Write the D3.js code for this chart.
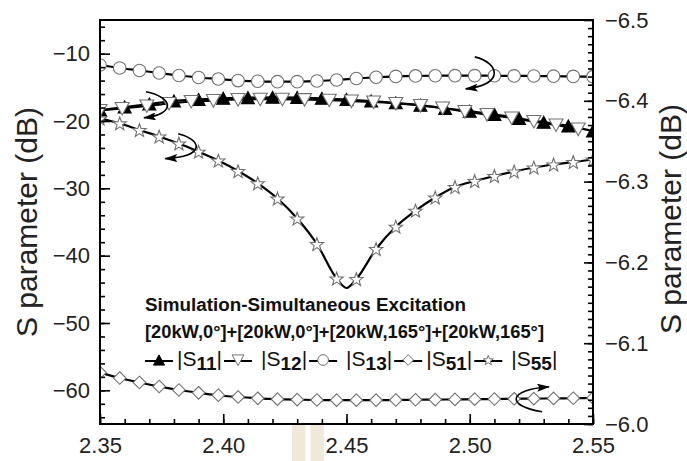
<!DOCTYPE html>
<html>
<head>
<meta charset="utf-8">
<script src="https://cdn.jsdelivr.net/npm/d3@7"></script>
<style>
  body { margin: 0; background: #fff; }
  svg { display: block; font-family: "Liberation Sans", Arial, sans-serif; }
</style>
</head>
<body>
<svg id="chart" width="687" height="461"></svg>
<script>
// Frequency grids (GHz)
const freq = [2.350, 2.358, 2.366, 2.374, 2.382, 2.390, 2.398, 2.406, 2.414, 2.422, 2.430, 2.438, 2.446,
              2.454, 2.462, 2.470, 2.478, 2.486, 2.494, 2.502, 2.510, 2.518, 2.526, 2.534, 2.542, 2.550];
const freqS11 = [2.35, 2.36, 2.37, 2.38, 2.39, 2.40, 2.41, 2.42, 2.43, 2.44, 2.45,
                 2.46, 2.47, 2.48, 2.49, 2.50, 2.51, 2.52, 2.53, 2.54, 2.55];
const freqS12 = [2.350, 2.359, 2.369, 2.378, 2.387, 2.396, 2.406, 2.415, 2.424, 2.433, 2.443,
                 2.452, 2.461, 2.470, 2.480, 2.489, 2.498, 2.507, 2.517, 2.526, 2.535, 2.544];

// |S| magnitudes in dB (S51 is read on the right-hand axis)
const s11 = [-18.37, -17.92, -17.48, -17.03, -16.81, -16.61, -16.53, -16.48, -16.51, -16.63, -16.81,
             -17.03, -17.30, -17.65, -18.14, -18.54, -19.01, -19.63, -20.18, -20.74, -21.49];
const s12 = [-18.44, -18.14, -17.77, -17.40, -17.10, -16.96, -16.81, -16.76, -16.76, -16.82, -16.91,
             -17.03, -17.18, -17.40, -17.70, -18.07, -18.59, -19.04, -19.55, -20.07, -20.59, -21.19];
const s13 = [-11.68, -12.13, -12.50, -12.87, -13.24, -13.54, -13.76, -13.99, -14.10, -14.16, -14.16, -14.06, -13.91,
             -13.69, -13.50, -13.38, -13.31, -13.28, -13.27, -13.27, -13.28, -13.30, -13.32, -13.35, -13.38, -13.42];
const s51 = [-6.0637, -6.0569, -6.0514, -6.0464, -6.0421, -6.0386, -6.0356, -6.0334, -6.0318, -6.0307, -6.0301, -6.0297, -6.0295,
             -6.0295, -6.0296, -6.0297, -6.0300, -6.0302, -6.0304, -6.0307, -6.0309, -6.0312, -6.0314, -6.0317, -6.0319, -6.0322];
const s55 = [-19.63, -20.34, -21.34, -22.30, -23.34, -24.56, -25.87, -27.43, -29.25, -31.51, -34.48, -38.27, -43.39,
             -43.47, -39.01, -35.70, -33.32, -31.36, -29.80, -28.91, -28.17, -27.50, -26.91, -26.46, -26.09, -25.72];
// resonance minimum of |S55| between its two markers
const s55Dip = { f: 2.450, v: -44.8 };

// Axis ticks and labels
const xMajor = [2.35, 2.40, 2.45, 2.50, 2.55];
const yLeftMajor = [-60, -50, -40, -30, -20, -10];
const yRightMajor = [-6.5, -6.4, -6.3, -6.2, -6.1, -6.0];
const titleLines = ["Simulation-Simultaneous Excitation",
                    "[20kW,0°]+[20kW,0°]+[20kW,165°]+[20kW,165°]"];
const legendSubs = ["11", "12", "13", "51", "55"];
const axisTitle = "S parameter (dB)";

const W = 687, H = 461;
const M = { left: 100, right: 94, top: 20, bottom: 37 };
const x0 = M.left, x1 = W - M.right, y0 = M.top, y1 = H - M.bottom;

const x = d3.scaleLinear().domain([2.35, 2.55]).range([x0, x1]);
const yL = d3.scaleLinear().domain([-65, -5]).range([y1, y0]);
const yR = d3.scaleLinear().domain([-6.0, -6.5]).range([y1, y0]);

const svg = d3.select("#chart");
const markerStroke = "#707070";

// small faded strip under the axis near 2.43 GHz
svg.append("g").selectAll("rect").data([[2.4279, 2.4333], [2.4354, 2.4408]]).join("rect")
  .attr("x", d => x(d[0])).attr("width", d => x(d[1]) - x(d[0]))
  .attr("y", y1).attr("height", H - y1).attr("fill", "#f0e8d9");

// marker outlines, centred on their bounding box
function shapePath(kind, s) {
  const p = d3.path();
  if (kind === "triUp") {
    p.moveTo(0, -6 * s); p.lineTo(6.5 * s, 6 * s); p.lineTo(-6.5 * s, 6 * s); p.closePath();
  } else if (kind === "triDown") {
    p.moveTo(-7 * s, -6 * s); p.lineTo(7 * s, -6 * s); p.lineTo(0, 6.5 * s); p.closePath();
  } else if (kind === "circle") {
    p.arc(0, 0, 6.3 * s, 0, 2 * Math.PI);
  } else if (kind === "diamond") {
    p.moveTo(0, -6.3 * s); p.lineTo(6.3 * s, 0); p.lineTo(0, 6.3 * s); p.lineTo(-6.3 * s, 0); p.closePath();
  } else if (kind === "star") {
    for (let i = 0; i < 10; i++) {
      const a = -Math.PI / 2 + i * Math.PI / 5;
      const r = (i % 2 ? 2.9 : 7) * s;
      const px = r * Math.cos(a), py = r * Math.sin(a) + 0.7 * s;
      i ? p.lineTo(px, py) : p.moveTo(px, py);
    }
    p.closePath();
  }
  return p.toString();
}

const series = [
  { f: freqS11, v: s11, axis: yL, shape: "triUp",   fill: "#000", stroke: "#000" },
  { f: freqS12, v: s12, axis: yL, shape: "triDown", fill: "#fff", stroke: markerStroke },
  { f: freq,    v: s13, axis: yL, shape: "circle",  fill: "#fff", stroke: markerStroke },
  { f: freq,    v: s51, axis: yR, shape: "diamond", fill: "#fff", stroke: markerStroke },
  { f: freq,    v: s55, axis: yL, shape: "star",    fill: "#fff", stroke: markerStroke, dip: s55Dip }
];

svg.append("defs").append("clipPath").attr("id", "plotClip")
  .append("rect").attr("x", x0).attr("y", y0).attr("width", x1 - x0).attr("height", y1 - y0);

const plot = svg.append("g").attr("clip-path", "url(#plotClip)");

series.forEach(s => {
  const pts = s.f.map((f, i) => ({ f, v: s.v[i] }));
  const linePts = s.dip ? pts.concat([s.dip]).sort((a, b) => a.f - b.f) : pts;
  const line = d3.line().x(d => x(d.f)).y(d => s.axis(d.v)).curve(d3.curveMonotoneX);
  plot.append("path").datum(linePts).attr("d", line)
    .attr("fill", "none").attr("stroke", "#000").attr("stroke-width", 2.2);
  plot.append("g").selectAll("path").data(pts).join("path")
    .attr("transform", d => `translate(${x(d.f)},${s.axis(d.v)})`)
    .attr("d", shapePath(s.shape, 1))
    .attr("fill", s.fill).attr("stroke", s.stroke).attr("stroke-width", 1.1);
});

// frame
svg.append("rect").attr("x", x0).attr("y", y0).attr("width", x1 - x0).attr("height", y1 - y0)
  .attr("fill", "none").attr("stroke", "#000").attr("stroke-width", 2);

const tickFont = 22;
function styleAxis(g) {
  g.select(".domain").remove();
  g.selectAll(".tick line").attr("stroke", "#000").attr("stroke-width", 1.6);
  g.selectAll(".tick text").attr("font-size", tickFont).attr("fill", "#222")
    .attr("font-family", "'Liberation Sans', Arial, sans-serif");
}

// bottom axis
svg.append("g").attr("transform", `translate(0,${y1})`)
  .call(d3.axisBottom(x).tickValues(d3.range(2.35, 2.5501, 0.01)).tickSize(-5).tickFormat(""))
  .call(styleAxis);
svg.append("g").attr("transform", `translate(0,${y1})`)
  .call(d3.axisBottom(x).tickValues(xMajor).tickSize(-10).tickPadding(13).tickFormat(d3.format(".2f")))
  .call(styleAxis);

// left axis
svg.append("g").attr("transform", `translate(${x0},0)`)
  .call(d3.axisLeft(yL).tickValues(d3.range(-64, -5, 2)).tickSize(-5).tickFormat(""))
  .call(styleAxis);
svg.append("g").attr("transform", `translate(${x0},0)`)
  .call(d3.axisLeft(yL).tickValues(yLeftMajor).tickSize(-10).tickPadding(10).tickFormat(d3.format("d")))
  .call(styleAxis);

// right axis
svg.append("g").attr("transform", `translate(${x1},0)`)
  .call(d3.axisRight(yR).tickValues(d3.range(-6.49, -6.0, 0.01)).tickSize(-5).tickFormat(""))
  .call(styleAxis);
svg.append("g").attr("transform", `translate(${x1},0)`)
  .call(d3.axisRight(yR).tickValues(yRightMajor).tickSize(-9).tickPadding(12).tickFormat(d3.format(".1f")))
  .call(styleAxis);

// axis titles
svg.append("text").attr("transform", `translate(37,${(y0 + y1) / 2}) rotate(-90)`)
  .attr("text-anchor", "middle").attr("font-size", 30).attr("fill", "#222").text(axisTitle);
svg.append("text").attr("transform", `translate(681,${(y0 + y1) / 2 - 3}) rotate(-90)`)
  .attr("text-anchor", "middle").attr("font-size", 30).attr("fill", "#222").text(axisTitle);

// curved arrows pointing at the axis each curve is read against
const arrows = [
  { at: [2.50, -13], axis: yL, d: "M5,-17 C30,-11 35,11 -4,15" },
  { at: [2.38, -17], axis: yL, d: "M-28,-9 C-2,-4 4,13 -30,17" },
  { at: [2.40, -25], axis: yL, d: "M-45,-21 C-21,-15 -17,2 -58,4" },
  { at: [2.52, -6.03], axis: yR, d: "M23,12 C-14,6 -11,-10 30,-13" }
];
svg.select("defs").append("marker").attr("id", "head")
  .attr("viewBox", "0 0 13 8").attr("refX", 12).attr("refY", 4)
  .attr("markerWidth", 13).attr("markerHeight", 8).attr("markerUnits", "userSpaceOnUse")
  .attr("orient", "auto")
  .append("path").attr("d", "M0,0 L13,4 L0,8 L2.5,4 Z").attr("fill", "#000");
svg.append("g").selectAll("path").data(arrows).join("path")
  .attr("transform", a => `translate(${x(a.at[0])},${a.axis(a.at[1])})`)
  .attr("d", a => a.d).attr("fill", "none").attr("stroke", "#000").attr("stroke-width", 1.6)
  .attr("marker-end", "url(#head)");

// legend block
const lx = 145;
const titleWidths = [321, 399];
svg.append("g").selectAll("text").data(titleLines).join("text")
  .attr("x", lx).attr("y", (d, i) => 311 + i * 27)
  .attr("font-size", 18).attr("font-weight", "bold").attr("fill", "#111")
  .attr("textLength", (d, i) => titleWidths[i]).attr("lengthAdjust", "spacingAndGlyphs")
  .text(d => d);

const gaps = [4, 9, 9, 4, 9];
let cx = lx;
const ly = 361;
series.forEach((s, i) => {
  const g = svg.append("g");
  g.append("line").attr("x1", cx).attr("x2", cx + 28).attr("y1", ly).attr("y2", ly)
    .attr("stroke", "#000").attr("stroke-width", 2);
  g.append("path").attr("transform", `translate(${cx + 14},${ly - 1})`)
    .attr("d", shapePath(s.shape, s.shape === "star" ? 0.75 : 0.85))
    .attr("fill", s.fill).attr("stroke", s.stroke).attr("stroke-width", 1);
  cx += 28 + gaps[i];
  const t = g.append("text").attr("x", cx).attr("y", 366).attr("font-size", 21).attr("fill", "#111");
  t.append("tspan").text("|S");
  t.append("tspan").attr("dy", 4).attr("font-size", 19).attr("font-weight", "bold").text(legendSubs[i]);
  t.append("tspan").attr("dy", -4).text("|");
  cx += t.node().getComputedTextLength() + 2;
});
</script>
</body>
</html>
